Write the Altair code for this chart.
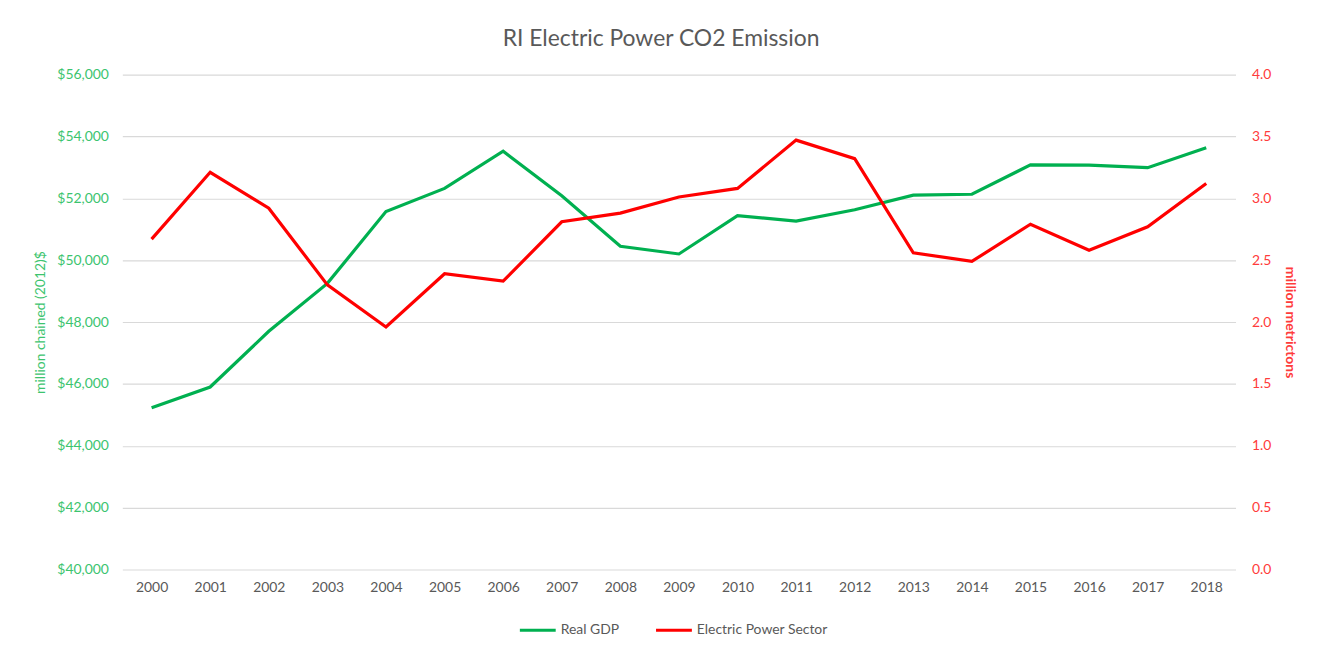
import altair as alt
import pandas as pd

years = list(range(2000, 2019))
gdp = [45230, 45900, 47700, 49250, 51570, 52320, 53520, 52080, 50450, 50200,
       51440, 51260, 51630, 52100, 52130, 53080, 53070, 52990, 53630]
co2 = [2.67, 3.21, 2.92, 2.30, 1.96, 2.39, 2.33, 2.81, 2.88, 3.01,
       3.08, 3.47, 3.32, 2.56, 2.49, 2.79, 2.58, 2.77, 3.12]
series = ["Real GDP", "Electric Power Sector"]
line_colors = ["#00b050", "#ff0000"]
gdp_ticks = list(range(40000, 56001, 2000))
co2_ticks = [0.0, 0.5, 1.0, 1.5, 2.0, 2.5, 3.0, 3.5, 4.0]

FONT = "Lato"
GREEN_TXT = "#3cc46e"
RED_TXT = "#ff3b3b"
GRAY_TXT = "#595959"

df = pd.DataFrame({"year": years, "gdp": gdp, "co2": co2})

x = alt.X("year:O", scale=alt.Scale(padding=0.5),
          axis=alt.Axis(title=None, labelAngle=0, labelColor=GRAY_TXT, labelFontSize=14,
                        labelFont=FONT, domain=False, ticks=False, labelPadding=11, grid=False))
color = alt.Color("series:N", scale=alt.Scale(domain=series, range=line_colors),
                  legend=alt.Legend(title=None, orient="none", direction="horizontal",
                                    legendX=398, legendY=539, symbolType="stroke",
                                    symbolSize=1300, symbolStrokeWidth=3,
                                    labelFont=FONT, labelFontSize=14, labelColor=GRAY_TXT,
                                    columnPadding=30, labelOffset=3))

gdp_layer = alt.Chart(df).transform_calculate(series="'Real GDP'").mark_line(
    strokeWidth=3.2).encode(
    x=x,
    y=alt.Y("gdp:Q", scale=alt.Scale(domain=[40000, 56000], nice=False, zero=False),
            axis=alt.Axis(title="million chained (2012)$", values=gdp_ticks, format="$,.0f",
                          labelColor=GREEN_TXT, titleColor=GREEN_TXT, labelFont=FONT,
                          titleFont=FONT, labelFontSize=14, titleFontSize=14,
                          titleFontWeight="normal", domain=False, ticks=False,
                          labelPadding=14, titlePadding=9, gridColor="#d9d9d9",
                          gridWidth=1.2)),
    color=color,
)

co2_layer = alt.Chart(df).transform_calculate(series="'Electric Power Sector'").mark_line(
    strokeWidth=3.2).encode(
    x=x,
    y=alt.Y("co2:Q", scale=alt.Scale(domain=[0, 4], nice=False),
            axis=alt.Axis(title="million metrictons", orient="right", values=co2_ticks,
                          format=".1f", labelColor=RED_TXT, titleColor=RED_TXT,
                          labelFont=FONT, titleFont=FONT, labelFontSize=14,
                          titleFontSize=14, titleFontWeight="bold", domain=False,
                          ticks=False, grid=False, labelPadding=16, titlePadding=12)),
    color=color,
)

chart = alt.layer(gdp_layer, co2_layer).resolve_scale(y="independent").properties(
    width=1120, height=498,
    title=alt.TitleParams("RI Electric Power CO2 Emission", fontSize=23, color=GRAY_TXT,
                          font=FONT, fontWeight="normal", offset=17, dx=-18),
    autosize=alt.AutoSizeParams(type="none"),
    padding={"left": 115, "top": 65, "right": 90, "bottom": 75},
).configure_view(stroke=None)

chart.save("out.html", embed_options={"renderer": "svg", "actions": False})
